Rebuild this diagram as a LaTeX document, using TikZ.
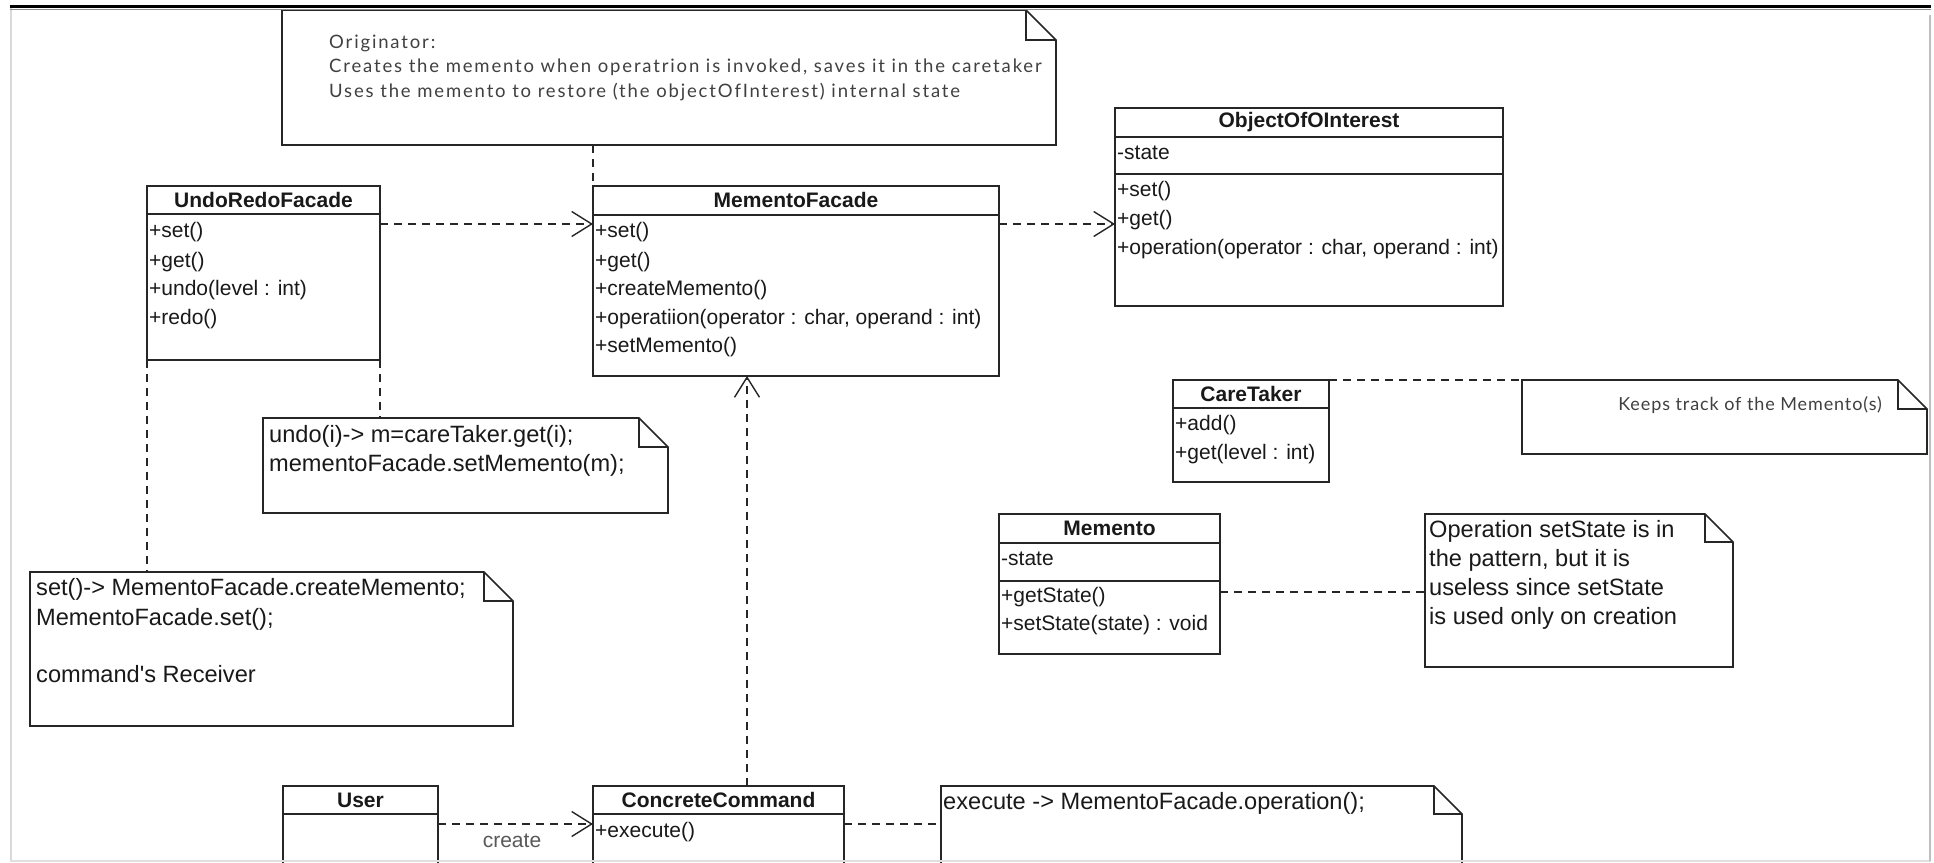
\documentclass[tikz,border=0pt]{standalone}
\usepackage{fontspec}
\setmainfont{Liberation Sans}[Ligatures=TeXOff]
\newfontfamily\notefont{Lato}[LetterSpace=10]
\newfontfamily\keepsfont{Lato}[LetterSpace=5]
\usetikzlibrary{arrows.meta,calc}

% dog-eared outline of a UML note around node #1, fold size #2
\newcommand\dogear[2]{%
  \draw[noteline] (#1.north west) -- ([xshift=-#2]#1.north east)
    -- ([yshift=-#2]#1.north east) -- (#1.south east) -- (#1.south west) -- cycle
    ([xshift=-#2]#1.north east) |- ([yshift=-#2]#1.north east);}

\begin{document}
\begin{tikzpicture}[x=1pt,y=-1pt,
  umlbox/.style={draw=black!85, line width=1.6pt, fill=white, anchor=north west,
    inner sep=0pt, outer sep=0pt},
  notearea/.style={anchor=north west, inner sep=0pt, outer sep=0pt, fill=white},
  noteline/.style={draw=black!85, line width=1.6pt, line join=miter},
  compline/.style={draw=black!85, line width=1.6pt},
  cname/.style={font=\fontsize{21}{25}\selectfont\bfseries, inner sep=0pt, text=black!90},
  member/.style={font=\fontsize{21}{25}\selectfont, anchor=mid west, inner sep=0pt, text=black!90},
  notetext/.style={font=\fontsize{23.6}{28}\selectfont, anchor=mid west, inner sep=0pt, text=black!90},
  softtext/.style={font=\notefont\fontsize{18.5}{22}\selectfont, anchor=mid west, inner sep=0pt, text=black!75},
  keepstext/.style={font=\keepsfont\fontsize{18}{22}\selectfont, anchor=mid east, inner sep=0pt, text=black!75},
  dashlink/.style={draw=black!85, line width=1.4pt, dash pattern=on 8pt off 6pt},
  dep/.style={dashlink, -{Straight Barb[length=20pt,width=25pt,line width=1.4pt]}},
]
\useasboundingbox (0,0) rectangle (1934,862);
\fill[white] (0,0) rectangle (1934,862);

\begin{scope}
\clip (0,0) rectangle (1934,862);

% ---------- notes ----------
\node[notearea, minimum width=774pt, minimum height=135pt] (orig) at (282,10) {};
\dogear{orig}{30pt}
\node[softtext] (orig-l1) at (329,46) {Originator:};
\node[softtext] (orig-l2) at (329,70) {Creates the memento when operatrion is invoked, saves it in the caretaker};
\node[softtext] (orig-l3) at (329,95) {Uses the memento to restore (the objectOfInterest) internal state};

\node[notearea, minimum width=405pt, minimum height=74pt] (keeps) at (1522,380) {};
\dogear{keeps}{29pt}
\node[keepstext] (keeps-l1) at (1882,408) {Keeps track of the Memento(s)};

\node[notearea, minimum width=308pt, minimum height=153pt] (opnote) at (1425,514) {};
\dogear{opnote}{28pt}
\node[notetext] (opnote-l1) at (1429,535) {Operation setState is in};
\node[notetext] (opnote-l2) at (1429,564) {the pattern, but it is};
\node[notetext] (opnote-l3) at (1429,593) {useless since setState};
\node[notetext] (opnote-l4) at (1429,622) {is used only on creation};

\node[notearea, minimum width=405pt, minimum height=95pt] (undonote) at (263,418) {};
\dogear{undonote}{29pt}
\node[notetext] (undonote-l1) at (269,440) {undo(i)-> m=careTaker.get(i);};
\node[notetext] (undonote-l2) at (269,469) {mementoFacade.setMemento(m);};

\node[notearea, minimum width=483pt, minimum height=154pt] (setnote) at (30,572) {};
\dogear{setnote}{29pt}
\node[notetext] (setnote-l1) at (36,593) {set()-> MementoFacade.createMemento;};
\node[notetext] (setnote-l2) at (36,623) {MementoFacade.set();};
\node[notetext] (setnote-l3) at (36,680) {command's Receiver};

\node[notearea, minimum width=521pt, minimum height=90pt] (execnote) at (941,786) {};
\dogear{execnote}{28pt}
\node[notetext] (execnote-l1) at (943,807) {execute -> MementoFacade.operation();};

% ---------- classes ----------
% UndoRedoFacade
\node[umlbox, minimum width=233pt, minimum height=174pt] (urf) at (147,186) {};
\draw[compline] (urf.west |- 0,214) -- (urf.east |- 0,214);
\node[cname] (urf-name) at (263.5,200) {UndoRedoFacade};
\node[member] (urf-m1) at (149,235) {+set()};
\node[member] (urf-m2) at (149,265) {+get()};
\node[member] (urf-m3) at (149,293) {+undo(level : int)};
\node[member] (urf-m4) at (149,322) {+redo()};

% MementoFacade
\node[umlbox, minimum width=406pt, minimum height=190pt] (mf) at (593,186) {};
\draw[compline] (mf.west |- 0,215) -- (mf.east |- 0,215);
\node[cname] (mf-name) at (796,200) {MementoFacade};
\node[member] (mf-m1) at (595,235) {+set()};
\node[member] (mf-m2) at (595,265) {+get()};
\node[member] (mf-m3) at (595,293) {+createMemento()};
\node[member] (mf-m4) at (595,322) {+operatiion(operator : char, operand : int)};
\node[member] (mf-m5) at (595,350) {+setMemento()};

% ObjectOfOInterest
\node[umlbox, minimum width=388pt, minimum height=198pt] (ooi) at (1115,108) {};
\draw[compline] (ooi.west |- 0,137) -- (ooi.east |- 0,137);
\draw[compline] (ooi.west |- 0,174) -- (ooi.east |- 0,174);
\node[cname] (ooi-name) at (1309,122) {ObjectOfOInterest};
\node[member] (ooi-a1) at (1117,157) {-state};
\node[member] (ooi-m1) at (1117,194) {+set()};
\node[member] (ooi-m2) at (1117,223) {+get()};
\node[member] (ooi-m3) at (1117,252) {+operation(operator : char, operand : int)};

% CareTaker
\node[umlbox, minimum width=156pt, minimum height=102pt] (ct) at (1173,380) {};
\draw[compline] (ct.west |- 0,408) -- (ct.east |- 0,408);
\node[cname] (ct-name) at (1251,394) {CareTaker};
\node[member] (ct-m1) at (1175,428) {+add()};
\node[member] (ct-m2) at (1175,457) {+get(level : int)};

% Memento
\node[umlbox, minimum width=221pt, minimum height=140pt] (mem) at (999,514) {};
\draw[compline] (mem.west |- 0,543) -- (mem.east |- 0,543);
\draw[compline] (mem.west |- 0,581) -- (mem.east |- 0,581);
\node[cname] (mem-name) at (1109.5,528.5) {Memento};
\node[member] (mem-a1) at (1001,563) {-state};
\node[member] (mem-m1) at (1001,600) {+getState()};
\node[member] (mem-m2) at (1001,628) {+setState(state) : void};

% User
\node[umlbox, minimum width=155pt, minimum height=90pt] (user) at (283,786) {};
\draw[compline] (user.west |- 0,814) -- (user.east |- 0,814);
\node[cname] (user-name) at (360.5,800) {User};

% ConcreteCommand
\node[umlbox, minimum width=251pt, minimum height=90pt] (cc) at (593,786) {};
\draw[compline] (cc.west |- 0,814) -- (cc.east |- 0,814);
\node[cname] (cc-name) at (718.5,800) {ConcreteCommand};
\node[member] (cc-m1) at (595,835) {+execute()};

% ---------- connectors ----------
\draw[dep] ([yshift=-38pt]urf.north east) -- ([yshift=-38pt]mf.north west);
\draw[dep] ([yshift=-38pt]mf.north east) -- ([yshift=-116pt]ooi.north west);
\draw[dep] ([yshift=-38pt]user.north east) -- ([yshift=-38pt]cc.north west);
\node[font=\fontsize{21}{25}\selectfont, text=black!65, inner sep=0pt] (create) at (512,841) {create};
\draw[dep] ([xshift=154pt]cc.north west) -- ([xshift=154pt]mf.south west);

\draw[dashlink] (mf.north west |- orig.south) -- (mf.north west);
\draw[dashlink] (urf.south west) -- (urf.south west |- setnote.north);
\draw[dashlink] (urf.south east) -- (urf.south east |- undonote.north);
\draw[dashlink] (ct.north east) -- (keeps.north west);
\draw[dashlink] ([yshift=-78pt]mem.north east) -- ([yshift=-78pt]opnote.north west);
\draw[dashlink] ([yshift=-38pt]cc.north east) -- ([yshift=-38pt]execnote.north west);
\end{scope}

% ---------- window frame ----------
\draw[black!15, line width=2pt] (11,8) -- (11,861);
\draw[black!12, line width=2pt] (10,861) -- (1931,861);
\draw[black!25, line width=1.5pt] (1930,15) -- (1930,861);
\draw[black!45, line width=1pt] (10,9) -- (1931,9);
\draw[black, line width=3pt] (10,6.5) -- (1931,6.5);
\end{tikzpicture}
\end{document}
